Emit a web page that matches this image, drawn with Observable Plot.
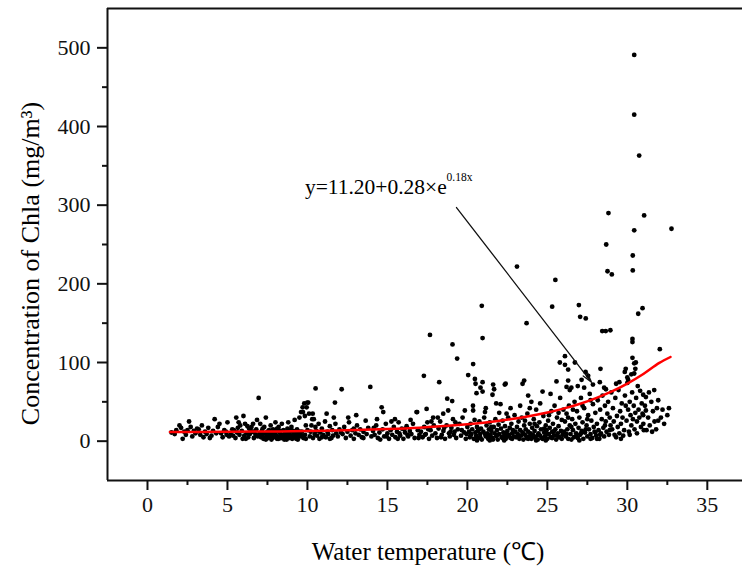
<!DOCTYPE html>
<html>
<head>
<meta charset="utf-8">
<script src="https://cdn.jsdelivr.net/npm/d3@7"></script>
<script src="https://cdn.jsdelivr.net/npm/@observablehq/plot@0.6"></script>
<style>
  html, body { margin: 0; padding: 0; background: #fff; }
  #chart svg { display: block; }
</style>
</head>
<body>
<div id="chart"></div>
<script>
// ---- data: [water temperature (°C), Chla (mg/m3)] ----
const samples = [
  [1.5,11],[1.7,9],[1.8,14],[2.0,20],[2.1,17],[2.2,3],[2.3,12],[2.4,8],[2.6,25],[2.7,18],[2.8,6],[2.9,13],[3.0,10],[3.1,16],[2.5,14],
  [3.2,15],[3.3,8],[3.4,20],[3.5,5],[3.6,12],[3.7,9],[3.8,17],[3.9,4],[4.0,7],[4.1,13],[4.2,28],[4.3,10],[4.4,18],[4.5,22],[4.6,10],[4.7,5],[4.8,14],[4.9,12],[5.0,24],[4.95,8],
  [5.1,6],[5.2,9],[5.3,15],[5.4,14],[5.5,4],[5.55,30],[5.6,11],[5.7,24],[5.75,8],[5.8,20],[5.9,13],[6.0,32],[6.05,7],[6.1,22],[6.15,3],[6.2,10],[6.3,5],[6.35,16],[6.4,9],[6.5,18],[6.55,12],[6.6,22],[6.65,4],[6.7,12],[6.75,8],[6.8,15],[6.85,27],[6.9,6],[6.95,55],[7.0,10],[6.45,13],[5.65,17],[5.35,7],[6.25,19],[5.95,3],
  [7.05,22],[7.1,5],[7.15,13],[7.2,8],[7.25,3],[7.3,18],[7.35,10],[7.4,30],[7.45,6],[7.5,12],[7.55,4],[7.6,14],[7.65,9],[7.7,20],[7.75,2],[7.8,9],[7.85,15],[7.9,5],[7.95,11],[8.0,24],[8.05,7],[8.1,3],[8.15,13],[8.2,18],[8.25,6],[8.3,10],[8.35,4],[8.4,22],[8.45,8],[8.5,14],[8.55,2],[8.6,12],[8.65,6],[8.7,9],[8.75,16],[8.8,24],[8.85,4],[8.9,11],[8.95,7],[9.0,18],[9.05,3],[9.1,13],[9.15,8],[9.2,27],[9.25,5],[9.3,10],[9.35,15],[9.4,2],[9.45,9],[9.5,30],[9.55,6],[9.6,37],[9.65,12],[9.7,43],[9.72,37],[9.75,4],[9.8,48],[9.84,32],[9.85,8],[9.9,20],[9.95,43],[9.99,49],[10.05,49],[10.0,14],[7.6,7],[8.1,16],[8.6,3],[9.1,5],[9.6,7],[7.3,4],[8.3,13],[8.9,14],
  [7.1,9],[7.4,2],[7.7,6],[7.9,12],[8.2,3],[8.4,5],[8.7,2],[8.8,7],[9.0,4],[9.3,3],[9.5,12],[9.7,6],[9.9,3],[8.0,9],[8.5,5],[7.2,16],[7.8,4],[9.4,6],
  [10.1,35],[10.15,6],[10.2,12],[10.3,28],[10.33,35],[10.35,4],[10.4,28],[10.45,9],[10.5,18],[10.51,67],[10.55,13],[10.6,7],[10.7,22],[10.75,3],[10.8,11],[10.9,16],[11.0,8],[11.1,25],[11.15,5],[11.2,35],[11.25,12],[11.3,9],[11.4,19],[11.5,4],[11.55,14],[11.6,7],[11.72,49],[11.75,22],[11.8,10],[11.9,6],[12.0,15],[12.14,66],[12.2,9],[12.3,18],[12.4,4],[12.5,12],[12.6,24],[12.7,7],[12.8,14],[12.9,3],[13.0,10],[13.1,20],[13.2,8],[13.3,15],[13.4,5],[13.5,12],[13.64,26],[13.7,9],[13.8,17],[13.93,69],[14.0,6],[10.9,5],[11.4,3],[12.1,11],[12.9,16],[13.5,4],[10.25,20],[11.65,30],[12.55,30],[13.05,33],
  [14.1,13],[14.2,8],[14.3,20],[14.4,4],[14.5,11],[14.64,43],[14.7,15],[14.74,37],[14.8,6],[14.9,22],[15.0,10],[15.1,3],[15.2,14],[15.3,8],[15.4,18],[15.47,28],[15.5,5],[15.6,12],[15.7,24],[15.8,7],[15.9,16],[16.0,3],[16.1,11],[16.2,19],[16.3,6],[16.4,13],[16.5,9],[16.6,22],[16.7,4],[16.82,37],[16.86,37],[16.9,14],[17.0,8],[14.15,17],[14.55,2],[14.95,6],[15.25,25],[15.65,3],[16.05,15],[16.45,27],[16.95,4],[14.35,28],[15.75,10],[16.25,8],
  [17.1,12],[17.2,5],[17.28,83],[17.3,18],[17.4,9],[17.45,41],[17.5,24],[17.6,3],[17.66,135],[17.7,14],[17.8,7],[17.86,30],[17.9,20],[18.0,10],[18.1,4],[18.24,75],[18.2,16],[18.3,25],[18.4,8],[18.49,35],[18.5,13],[18.6,3],[18.7,20],[18.74,54],[18.8,39],[18.85,10],[18.9,6],[19.0,17],[19.05,51],[19.07,123],[19.1,28],[19.2,12],[19.3,4],[19.36,105],[19.4,15],[19.5,22],[19.6,7],[19.7,30],[19.8,11],[19.84,39],[19.9,3],[20.0,18],[17.35,8],[17.75,25],[18.15,30],[18.55,17],[18.95,12],[19.25,24],[19.65,14],[19.95,9],[17.55,15],[18.35,5],[19.15,8],
  [20.05,84],[20.36,98],[20.36,39],[20.47,79],[20.51,73],[20.57,61],[20.82,68],[20.95,131],[20.95,75],[20.95,63],[20.9,172],[21.1,37],[21.57,59],[21.61,72],[21.67,66],[21.99,36],[22.07,47],[22.39,73],[22.45,35],[22.34,72],
  [20.1,12],[20.15,5],[20.2,22],[20.25,9],[20.3,15],[20.4,3],[20.45,27],[20.5,11],[20.55,7],[20.6,18],[20.65,13],[20.7,4],[20.75,25],[20.8,9],[20.85,16],[20.9,2],[21.0,12],[21.05,30],[21.15,6],[21.2,20],[21.25,10],[21.3,3],[21.35,15],[21.4,24],[21.45,8],[21.5,13],[21.55,4],[21.65,18],[21.7,10],[21.75,28],[21.8,6],[21.85,14],[21.9,2],[21.95,21],[22.0,9],[22.1,16],[22.15,5],[22.2,26],[22.25,11],[22.3,7],[22.35,19],[22.4,3],[22.5,13],[22.55,30],[22.6,8],[22.65,17],[22.7,4],[22.75,22],[22.8,10],[22.85,14],[22.9,6],[22.95,33],[23.0,12],[20.35,45],[21.15,42],[21.8,48],[22.7,42],[20.6,1],[21.4,1],[22.3,1],
  [20.2,7],[20.5,3],[20.8,5],[21.1,9],[21.3,7],[21.6,2],[21.9,8],[22.2,4],[22.5,6],[22.8,3],[20.7,14],[21.5,18],[22.4,10],
  [23.1,222],[23.7,150],[23.45,73],[23.55,77],[23.8,58],[24.7,63],[25.3,171],[25.5,205],[25.57,76],[25.78,100],[26.1,108],[26.1,97],[26.3,91],[26.3,77],[26.2,69],[26.5,68],[23.3,45],[24.0,50],
  [23.05,5],[23.1,18],[23.15,9],[23.2,25],[23.25,3],[23.3,14],[23.35,7],[23.4,30],[23.45,11],[23.5,2],[23.55,20],[23.6,8],[23.65,15],[23.7,4],[23.75,35],[23.8,12],[23.85,6],[23.9,22],[23.95,10],[24.0,3],[24.05,17],[24.1,8],[24.15,28],[24.2,13],[24.25,5],[24.3,40],[24.35,19],[24.4,2],[24.45,10],[24.5,24],[24.55,7],[24.6,15],[24.65,4],[24.75,32],[24.8,11],[24.85,6],[24.9,20],[24.95,14],[25.0,3],[25.05,26],[25.1,9],[25.15,17],[25.2,5],[25.25,38],[25.3,12],[25.35,22],[25.4,7],[25.45,45],[25.5,15],[25.55,2],[25.6,30],[25.65,10],[25.7,19],[25.75,5],[25.8,55],[25.85,13],[25.9,27],[25.95,8],[26.0,40],[23.6,26],[24.3,1],[24.9,1],[25.1,33],[25.7,36],[25.2,60],[24.55,48],[23.9,42],
  [23.2,6],[23.5,10],[23.8,3],[24.1,5],[24.4,8],[24.7,3],[25.0,9],[25.3,4],[25.6,7],[25.9,3],[24.2,22],[24.8,16],[25.4,12],
  [26.72,100],[26.97,173],[27.05,158],[27.4,156],[27.14,78],[27.39,88],[27.55,83],[28.28,75],[28.32,92],[28.43,140],[28.65,140],[28.94,141],[28.55,68],[28.66,66],[28.68,250],[28.76,216],[28.82,290],[29.03,212],[26.5,2],
  [26.05,12],[26.1,25],[26.15,6],[26.2,35],[26.25,15],[26.3,3],[26.35,45],[26.4,20],[26.45,9],[26.55,28],[26.6,14],[26.65,5],[26.7,50],[26.75,22],[26.8,10],[26.85,38],[26.9,4],[26.95,17],[27.0,30],[27.05,8],[27.1,55],[27.15,13],[27.2,24],[27.25,3],[27.3,42],[27.35,11],[27.45,20],[27.5,6],[27.55,33],[27.6,15],[27.65,60],[27.7,9],[27.75,26],[27.8,4],[27.85,47],[27.9,18],[27.95,12],[28.0,36],[28.05,7],[28.1,22],[28.15,52],[28.2,14],[28.25,3],[28.3,40],[28.35,10],[28.4,28],[28.45,58],[28.5,17],[28.55,6],[28.6,45],[28.65,25],[28.7,12],[28.75,35],[28.8,50],[28.85,8],[28.9,30],[28.95,20],[29.0,62],[26.4,65],[26.9,70],[27.3,68],[27.85,72],[26.6,40],[27.2,45],[27.7,52],[28.1,3],[27.0,1],
  [26.2,9],[26.5,18],[26.8,6],[27.1,10],[27.4,15],[27.7,3],[28.0,11],[28.3,8],[28.6,20],[28.9,14],[26.3,30],[27.5,28],
  [29.3,73],[29.74,7],[29.84,88],[29.9,92],[30.0,81],[30.0,74],[30.32,130],[30.32,126],[30.32,106],[30.43,99],[30.53,100],[30.43,86],[30.34,236],[30.34,217],[30.43,268],[30.43,491],[30.43,415],[30.74,363],[30.68,162],[30.95,169],[31.05,287],[30.8,64],
  [29.05,15],[29.1,42],[29.15,25],[29.2,8],[29.25,55],[29.35,32],[29.4,18],[29.45,65],[29.5,10],[29.55,38],[29.6,22],[29.65,48],[29.7,30],[29.8,14],[29.85,58],[29.95,26],[30.05,40],[30.1,12],[30.15,50],[30.2,33],[30.25,20],[30.3,62],[30.35,28],[30.4,45],[30.45,15],[30.5,36],[30.55,55],[30.6,25],[30.65,70],[30.7,40],[30.75,30],[30.85,18],[30.9,48],[30.95,35],[31.0,22],[29.3,5],[29.6,3],[30.15,8],[30.6,10],[29.9,45],[30.05,78],[30.25,85],[30.5,92],[29.5,75],
  [31.2,14],[31.03,14],[31.16,39],[30.99,33],[30.99,59],[31.16,56],[31.68,65],[31.93,52],[31.93,26],[32.03,117],[32.5,33],[32.6,42],[32.76,270],
  [31.1,45],[31.3,30],[31.4,20],[31.5,50],[31.6,38],[31.7,25],[31.8,15],[31.85,42],[32.1,30],[32.2,40],[32.3,22],[31.35,62],[31.55,12]
];

// fitted curve
const fitTemp = [1.4, 3, 5, 7, 9, 11, 13, 15, 17, 19, 20, 21, 22, 23, 24, 25, 26, 27, 28, 29, 30, 31, 32, 32.7];
const fitChla = [11.6, 11.7, 11.9, 12.2, 12.6, 13.2, 14.1, 15.4, 17.2, 19.8, 21.5, 23.5, 25.9, 28.8, 32.3, 36.4, 41.4, 47.3, 54.5, 63.0, 73.2, 85.4, 99.5, 107];

const yMajorTicks = [0, 100, 200, 300, 400, 500];
const yMinorTicks = [50, 150, 250, 350, 450];
const xMajorTicks = [0, 5, 10, 15, 20, 25, 30, 35];
const xMinorTicks = [2.5, 7.5, 12.5, 17.5, 22.5, 27.5, 32.5];

const equationText = "y=11.20+0.28×e";
const equationExp = "0.18x";
const xTitle = "Water temperature (℃)";
const yTitle = "Concentration of Chla (mg/m³)";

const fitData = fitTemp.map((t, i) => ({t, c: fitChla[i]}));
const pts = samples.map(([t, c]) => ({t, c}));

const serif = "'Liberation Serif', 'Times New Roman', serif";
const ink = "#111";
const noLabel = () => "";

const chart = Plot.plot({
  width: 742,
  height: 567,
  marginLeft: 107,
  marginRight: 0,
  marginTop: 8,
  marginBottom: 87,
  style: {fontFamily: serif, background: "#fff", color: ink, overflow: "visible"},
  x: {domain: [-2.5, 37.2]},
  y: {domain: [-50, 550]},
  marks: [
    Plot.axisY({ticks: yMajorTicks, tickSize: 10, tickPadding: 7, fontSize: 22, strokeWidth: 2, label: null, stroke: ink, fill: ink}),
    Plot.axisY({ticks: yMinorTicks, tickSize: 5, tickFormat: noLabel, strokeWidth: 2, label: null, stroke: ink}),
    Plot.axisX({ticks: xMajorTicks, tickSize: 10, tickPadding: 6, fontSize: 22, strokeWidth: 2, label: null, stroke: ink, fill: ink}),
    Plot.axisX({ticks: xMinorTicks, tickSize: 5, tickFormat: noLabel, strokeWidth: 2, label: null, stroke: ink}),
    Plot.ruleY([-50, 550], {stroke: ink, strokeWidth: 2}),
    Plot.ruleX([-2.5], {stroke: ink, strokeWidth: 2}),
    Plot.dot(pts, {x: "t", y: "c", r: 2.4, fill: "#000", stroke: null}),
    Plot.line(fitData, {x: "t", y: "c", stroke: "#ff0000", strokeWidth: 2.5, curve: "monotone-x"}),
    Plot.arrow([{x1: 19.32, y1: 297, x2: 27.76, y2: 74.8}], {
      x1: "x1", y1: "y1", x2: "x2", y2: "y2",
      stroke: "#111", strokeWidth: 1.3, headLength: 12, headAngle: 30
    }),
    Plot.text([equationText], {x: 9.84, y: 314, textAnchor: "start", lineAnchor: "bottom", fontSize: 21.5, fill: "#000"}),
    Plot.text([equationExp], {x: 18.7, y: 331, textAnchor: "start", lineAnchor: "bottom", fontSize: 11.5, fill: "#000"}),
    Plot.text([xTitle], {frameAnchor: "bottom", dx: 3, dy: 79, textAnchor: "middle", lineAnchor: "bottom", fontSize: 25, fill: "#000"}),
    Plot.text([yTitle], {frameAnchor: "left", dx: -69, dy: 19, rotate: -90, textAnchor: "middle", lineAnchor: "bottom", fontSize: 26, fill: "#000"})
  ]
});

document.getElementById("chart").appendChild(chart);
</script>
</body>
</html>
